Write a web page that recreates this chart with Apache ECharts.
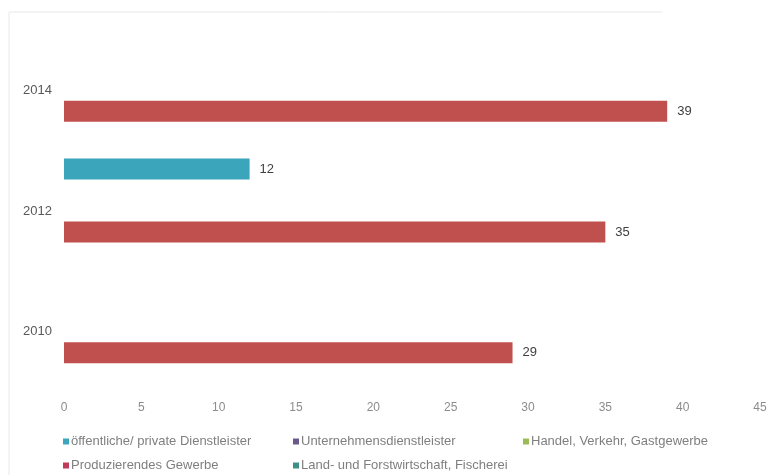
<!DOCTYPE html>
<html>
<head>
<meta charset="utf-8">
<script src="https://cdn.jsdelivr.net/npm/echarts@6/dist/echarts.min.js"></script>
<style>
html,body{margin:0;padding:0;background:#fff;}
#chart{width:774px;height:475px;}
</style>
</head>
<body>
<div id="chart"></div>
<script>
const categories = ['2010', '2012', '2014'];
const seriesNames = [
  'öffentliche/ private Dienstleister',
  'Unternehmensdienstleister',
  'Handel, Verkehr, Gastgewerbe',
  'Produzierendes Gewerbe',
  'Land- und Forstwirtschaft, Fischerei'
];
const oeffentlich = [null, 12, null];
const unternehmen = [null, null, null];
const handel = [null, null, null];
const produzierend = [29, 35, 39];
const landwirtschaft = [null, null, null];
const xTicks = [0, 5, 10, 15, 20, 25, 30, 35, 40, 45];

const values = [oeffentlich, unternehmen, handel, produzierend, landwirtschaft];
const colors = ['#3ba6bb', '#6a5a8c', '#9bbb59', '#c0504d', '#3f8f88'];
const legendColors = ['#3ba6bb', '#6a5a8c', '#9bbb59', '#c03a5a', '#3f8f88'];
const legendPos = [[58, 430], [288, 430], [518, 430], [58, 454], [288, 454]];

const font = '"Liberation Sans", Arial, sans-serif';

const chart = echarts.init(document.getElementById('chart'), null, {renderer: 'canvas'});
chart.setOption({
  animation: false,
  backgroundColor: '#ffffff',
  grid: {left: 64, right: 14, top: 30, bottom: 83},
  xAxis: {
    type: 'value',
    min: xTicks[0],
    max: xTicks[xTicks.length - 1],
    interval: 5,
    axisLine: {show: false},
    axisTick: {show: false},
    splitLine: {show: false},
    axisLabel: {color: '#8c8c8c', fontSize: 12, fontFamily: font, margin: 10}
  },
  yAxis: {
    type: 'category',
    data: categories,
    axisLine: {show: false},
    axisTick: {show: false},
    axisLabel: {color: '#595959', fontSize: 13, fontFamily: font, margin: 12}
  },
  legend: seriesNames.map((n, i) => ({
    data: [{name: n, itemStyle: {color: legendColors[i]}}],
    left: legendPos[i][0],
    top: legendPos[i][1],
    icon: 'rect',
    itemWidth: 6,
    itemHeight: 6,
    itemGap: 3,
    textStyle: {color: '#7f7f7f', fontSize: 13, fontFamily: font, padding: [0, 0, 0, -3]}
  })),
  series: seriesNames.map((n, i) => ({
    name: n,
    type: 'bar',
    data: values[i],
    barGap: '0%',
    barCategoryGap: '12.9%',
    legendHoverLink: false,
    itemStyle: {color: colors[i]},
    label: {
      show: true,
      position: 'right',
      distance: 10,
      color: '#404040',
      fontSize: 13,
      fontFamily: font
    }
  })),
  graphic: [
    {type: 'line', shape: {x1: 9, y1: 12, x2: 662, y2: 12}, style: {stroke: '#e8e8e8', lineWidth: 1}},
    {type: 'line', shape: {x1: 9, y1: 12, x2: 9, y2: 475}, style: {stroke: '#e8e8e8', lineWidth: 1}}
  ]
});
</script>
</body>
</html>
